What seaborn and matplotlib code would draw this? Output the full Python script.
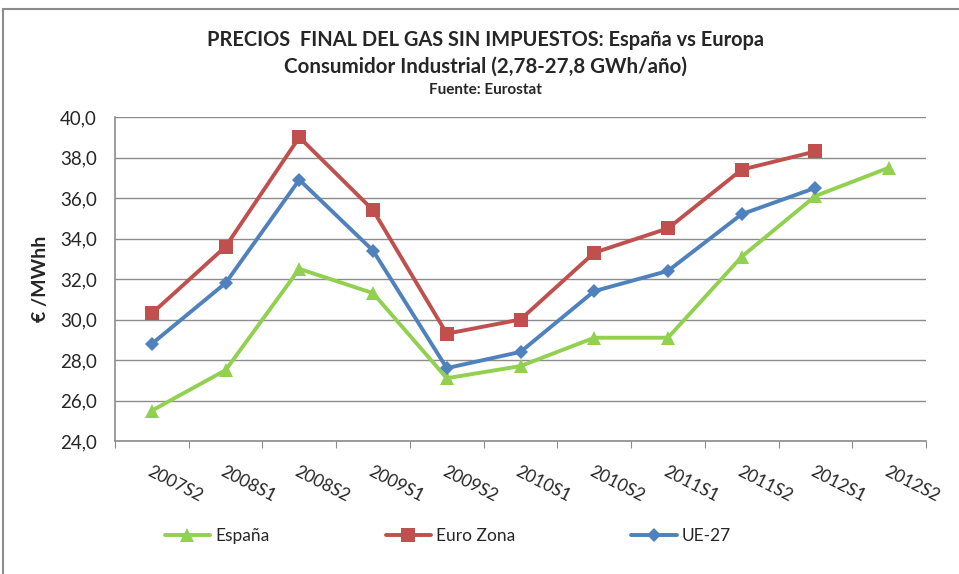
import numpy as np
import pandas as pd
import seaborn as sns
import matplotlib.pyplot as plt
from matplotlib.patches import Rectangle
from matplotlib.ticker import FuncFormatter, FixedLocator

periodos = ["2007S2", "2008S1", "2008S2", "2009S1", "2009S2", "2010S1",
            "2010S2", "2011S1", "2011S2", "2012S1", "2012S2"]
espana = [25.5, 27.5, 32.5, 31.3, 27.1, 27.7, 29.1, 29.1, 33.1, 36.1, 37.5]
euro_zona = [30.3, 33.6, 39.0, 35.4, 29.3, 30.0, 33.3, 34.5, 37.4, 38.3, np.nan]
ue27 = [28.8, 31.8, 36.9, 33.4, 27.6, 28.4, 31.4, 32.4, 35.2, 36.5, np.nan]

series = {"España": espana, "Euro Zona": euro_zona, "UE-27": ue27}
colores = {"España": "#92D050", "Euro Zona": "#C0504D", "UE-27": "#4F81BD"}
marcadores = {"España": "^", "Euro Zona": "s", "UE-27": "D"}
tamanos = {"España": 10, "Euro Zona": 9.5, "UE-27": 7.5}

sns.set_style("white")
plt.rcParams["font.family"] = ["Lato", "DejaVu Sans"]

fig = plt.figure(figsize=(9.59, 5.74), dpi=100)
ax = fig.add_axes([115 / 959, 133 / 574, 811 / 959, 324 / 574])

x = np.arange(len(periodos))
for nombre, valores in series.items():
    df = pd.DataFrame({"x": x, "y": valores}).dropna()
    sns.lineplot(data=df, x="x", y="y", ax=ax, color=colores[nombre],
                 marker=marcadores[nombre], markersize=tamanos[nombre],
                 markeredgewidth=0, linewidth=2.8, label=nombre)

ax.set_xlim(-0.5, len(periodos) - 0.5)
ax.set_ylim(24, 40)
ax.set_yticks(np.arange(24, 40.1, 2))
ax.yaxis.set_major_formatter(FuncFormatter(lambda v, p: f"{v:.1f}".replace(".", ",")))
ax.yaxis.grid(True, color="#8C8C8C", linewidth=1)
ax.tick_params(axis="y", length=0, labelsize=13.5, pad=13)

ax.xaxis.set_major_locator(FixedLocator(np.arange(-0.5, len(periodos), 1)))
ax.xaxis.set_minor_locator(FixedLocator(x))
ax.set_xticklabels([], minor=False)
ax.set_xticklabels(periodos, minor=True, rotation=-27, ha="left", va="top",
                   rotation_mode="anchor", fontsize=12.5)
ax.tick_params(axis="x", which="major", length=5, color="#8C8C8C", direction="out", bottom=True)
ax.tick_params(axis="x", which="minor", length=0, pad=16)

for s in ["top", "right"]:
    ax.spines[s].set_visible(False)
for s in ["left", "bottom"]:
    ax.spines[s].set_color("#8C8C8C")
    ax.spines[s].set_linewidth(1.2)

ax.set_xlabel("")
ax.set_ylabel("€ /MWhh", fontsize=14, fontweight="bold", labelpad=8)

handles, labels = ax.get_legend_handles_labels()
ax.get_legend().remove()
fig.legend(handles, labels, loc="center left", bbox_to_anchor=(149 / 959, 1 - 536 / 574),
           ncol=3, frameon=False, fontsize=12.5, handlelength=2.6,
           handletextpad=0.3, columnspacing=6.7)

fig.text(485 / 959, 1 - 40 / 574, "PRECIOS  FINAL DEL GAS SIN IMPUESTOS: España vs Europa",
         ha="center", va="center", fontsize=14.4, fontweight="bold")
fig.text(485 / 959, 1 - 67 / 574, "Consumidor Industrial (2,78-27,8 GWh/año)",
         ha="center", va="center", fontsize=14.8, fontweight="bold")
fig.text(485 / 959, 1 - 90 / 574, "Fuente: Eurostat",
         ha="center", va="center", fontsize=11, fontweight="bold")

fig.patches.append(Rectangle((3 / 959, -0.1), 1.2, 1.1 - 9 / 574, transform=fig.transFigure,
                             fill=False, edgecolor="#8C8C8C", linewidth=1.5))

fig.savefig("out.png", dpi=100)
